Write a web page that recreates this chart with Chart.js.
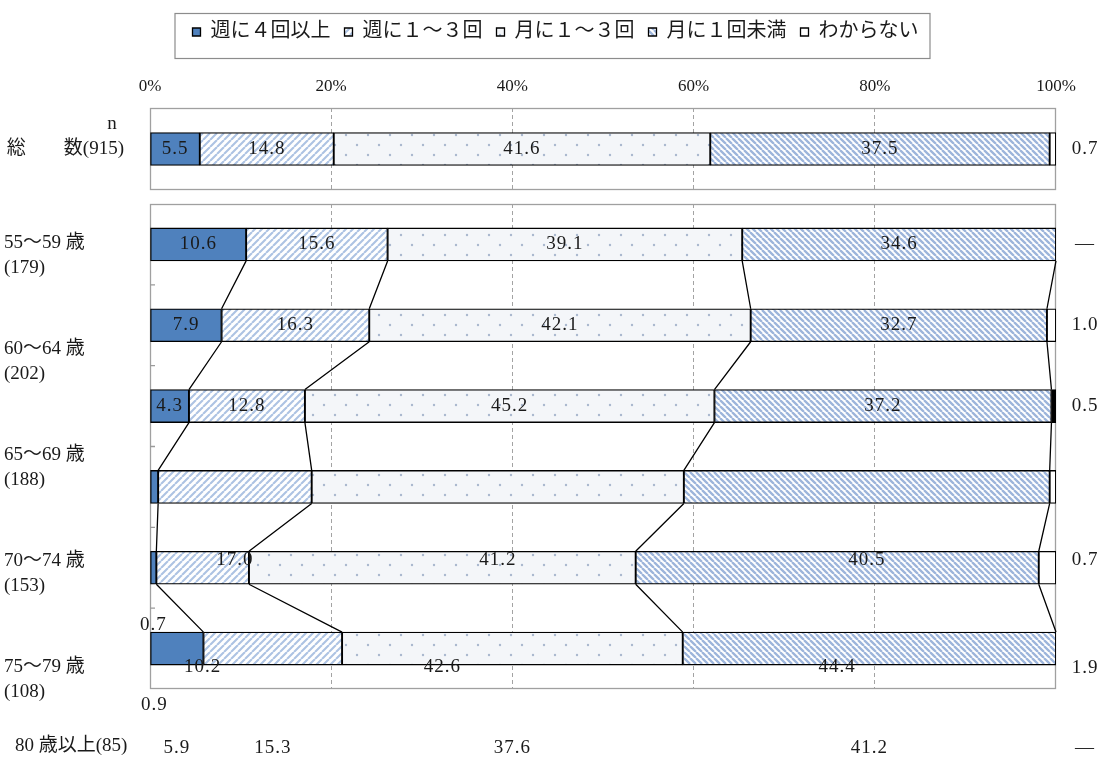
<!DOCTYPE html>
<html lang="ja">
<head>
<meta charset="utf-8">
<script src="https://cdn.jsdelivr.net/npm/chart.js@4.4.1/dist/chart.umd.min.js"></script>
<style>
html,body{margin:0;padding:0;background:#fff;}
#wrap{position:relative;width:1111px;height:758px;overflow:hidden;background:#fff;}
#c1{position:absolute;left:0;top:0;}
#c2{position:absolute;left:0;top:190px;}
</style>
</head>
<body>
<div id="wrap">
<canvas id="c1" width="1111" height="200"></canvas>
<canvas id="c2" width="1111" height="568"></canvas>
</div>
<script>
// ---------------- data ----------------
const seriesNames = ['週に４回以上','週に１～３回','月に１～３回','月に１回未満','わからない'];
const totalCategory = '総　　数(915)';
const totalNote = 'n';
const totalValues = [5.5, 14.8, 41.6, 37.5, 0.7];
const ageGroups = ['55～59 歳','60～64 歳','65～69 歳','70～74 歳','75～79 歳','80 歳以上'];
const ageCounts = ['(179)','(202)','(188)','(153)','(108)','(85)'];
const weekly4plus   = [10.6, 7.9, 4.3, 0.9, 0.7, 5.9];
const weekly1to3    = [15.6, 16.3, 12.8, 17.0, 10.2, 15.3];
const monthly1to3   = [39.1, 42.1, 45.2, 41.2, 42.6, 37.6];
const monthlyUnder1 = [34.6, 32.7, 37.2, 40.5, 44.4, 41.2];
const unknownShare  = [0, 1.0, 0.5, 0.7, 1.9, 0];
const percentTicks  = [0, 20, 40, 60, 80, 100];

// ---------------- styles ----------------
const SERIF = '"Liberation Serif", "Noto Sans CJK JP", serif';
function makePattern(w, h, draw){
  const c = document.createElement('canvas'); c.width = w; c.height = h;
  const g = c.getContext('2d'); draw(g, w, h);
  return g.createPattern(c, 'repeat');
}
const solidBlue = '#4f81bd';
const hatchUp = makePattern(7, 7, (g, w, h) => {
  g.fillStyle = '#ffffff'; g.fillRect(0, 0, w, h);
  g.strokeStyle = '#adc3e3'; g.lineWidth = 2.1; g.beginPath();
  for (let k = -1; k <= 1; k++) { g.moveTo(k * w, h); g.lineTo(k * w + w, 0); }
  g.stroke();
});
const dots = makePattern(22, 20, (g, w, h) => {
  g.fillStyle = '#f4f6f9'; g.fillRect(0, 0, w, h);
  g.fillStyle = '#a9b8ce';
  [[5, 5], [16, 15]].forEach(([x, y]) => { g.beginPath(); g.arc(x, y, 1.2, 0, Math.PI * 2); g.fill(); });
});
const hatchDown = makePattern(6, 6, (g, w, h) => {
  g.fillStyle = '#ffffff'; g.fillRect(0, 0, w, h);
  g.strokeStyle = '#9db5db'; g.lineWidth = 2.3; g.beginPath();
  for (let k = -1; k <= 1; k++) { g.moveTo(k * w, 0); g.lineTo(k * w + w, h); }
  g.stroke();
});
function unknownFill(darkRow){
  return ctx => (ctx.type === 'data' && ctx.dataIndex === darkRow) ? '#000000' : '#ffffff';
}

function toShares(rows){
  const n = rows[0].length;
  const sums = Array.from({length: n}, (_, i) => rows.reduce((s, r) => s + r[i], 0));
  return rows.map(r => r.map((v, i) => v / sums[i] * 100));
}
function buildDatasets(rows, darkRow){
  const shares = toShares(rows);
  const fills = [solidBlue, hatchUp, dots, hatchDown, unknownFill(darkRow)];
  return rows.map((r, k) => ({
    label: seriesNames[k],
    data: shares[k],
    rawValues: r,
    backgroundColor: fills[k],
    yAxisID: 'y',
    xAxisID: 'x'
  }));
}

const gridColor = ctx => (ctx.tick && (ctx.tick.value === 0 || ctx.tick.value === 100)) ? 'rgba(0,0,0,0)' : '#a3a3a3';

// ---------------- plugins ----------------
const boxPlugin = {
  id: 'plotBox',
  beforeDatasetsDraw(chart){
    const {ctx, chartArea: a} = chart;
    ctx.save(); ctx.strokeStyle = '#a0a0a0'; ctx.lineWidth = 1.3;
    ctx.strokeRect(a.left + 0.5, a.top + 0.5, a.right - a.left - 1, a.bottom - a.top - 1);
    ctx.restore();
  }
};
function valueLabelPlugin(shift){
  return {
    id: 'valueLabels',
    afterDraw(chart){
      const {ctx, chartArea: a} = chart;
      ctx.save();
      ctx.font = '19px ' + SERIF; ctx.fillStyle = '#1a1a1a';
      ctx.textAlign = 'center'; ctx.textBaseline = 'middle';
      try { ctx.letterSpacing = '1px'; } catch (e) {}
      const last = chart.data.datasets.length - 1;
      chart.data.datasets.forEach((ds, k) => {
        chart.getDatasetMeta(k).data.forEach((el, i) => {
          const v = ds.rawValues[i];
          const txt = v === 0 ? '—' : v.toFixed(1);
          const x = k === last ? a.right + 29 : (el.x + el.base) / 2;
          ctx.fillText(txt, x, el.y + shift(i, k));
        });
      });
      ctx.restore();
    }
  };
}
const legendFramePlugin = {
  id: 'legendFrame',
  afterDraw(chart){
    const hb = chart.legend && chart.legend.legendHitBoxes;
    if (!hb || !hb.length) return;
    const f = hb[0], l = hb[hb.length - 1];
    const x0 = f.left - 18, x1 = l.left + l.width + 11, y0 = f.top - 9, y1 = f.top + 36;
    const ctx = chart.ctx;
    ctx.save(); ctx.strokeStyle = '#8c8c8c'; ctx.lineWidth = 1.2;
    ctx.strokeRect(x0 + 0.5, y0 + 0.5, x1 - x0, y1 - y0);
    ctx.restore();
  }
};
const totalLabelPlugin = {
  id: 'totalLabel',
  afterDraw(chart){
    const ctx = chart.ctx;
    const el = chart.getDatasetMeta(0).data[0];
    ctx.save(); ctx.font = '19px ' + SERIF; ctx.fillStyle = '#1a1a1a'; ctx.textBaseline = 'middle';
    ctx.textAlign = 'center'; ctx.fillText(totalNote, 112, el.y - 25);
    ctx.textAlign = 'right'; ctx.fillText(totalCategory, 124, el.y);
    ctx.restore();
  }
};
const ageLabelPlugin = {
  id: 'ageLabels',
  afterDraw(chart){
    const ctx = chart.ctx, top = chart.chartArea.top;
    ctx.save(); ctx.font = '19px ' + SERIF; ctx.fillStyle = '#1a1a1a';
    ctx.textBaseline = 'middle'; ctx.textAlign = 'left';
    ageGroups.forEach((g, i) => {
      if (i < ageGroups.length - 1) {
        const y = top + 39 + i * 106;
        ctx.fillText(g, 4, y);
        ctx.fillText(ageCounts[i], 4, y + 25);
      } else {
        ctx.fillText(g + ageCounts[i], 15, top + 542);
      }
    });
    ctx.restore();
  }
};
const seriesLinePlugin = {
  id: 'seriesLines',
  afterDatasetsDraw(chart){
    const ctx = chart.ctx, a = chart.chartArea;
    ctx.save();
    // inward category ticks on left axis
    const n = chart.data.labels.length, h = (a.bottom - a.top) / n;
    ctx.strokeStyle = '#9a9a9a'; ctx.lineWidth = 1.3;
    ctx.beginPath();
    for (let k = 1; k < n; k++) { ctx.moveTo(a.left, a.top + k * h); ctx.lineTo(a.left + 5, a.top + k * h); }
    ctx.stroke();
    // series lines between consecutive bars
    ctx.strokeStyle = '#000'; ctx.lineWidth = 1.3;
    ctx.beginPath();
    for (let k = 0; k < 4; k++) {
      const data = chart.getDatasetMeta(k).data;
      for (let i = 0; i < data.length - 1; i++) {
        const p = data[i], q = data[i + 1];
        ctx.moveTo(p.x, p.y + p.height / 2);
        ctx.lineTo(q.x, q.y - q.height / 2);
      }
    }
    ctx.stroke();
    ctx.restore();
  }
};

// ---------------- shared options ----------------
function baseScales(xExtra){
  return {
    x: Object.assign({
      min: 0, max: 100, stacked: true,
      afterBuildTicks: s => { s.ticks = percentTicks.map(v => ({value: v})); },
      grid: {color: gridColor, drawTicks: false, lineWidth: 1},
      border: {display: false, dash: [4, 3]}
    }, xExtra),
    y: {stacked: true, afterFit: s => { s.width = 150; }, ticks: {display: false}, grid: {display: false}, border: {display: false}},
    yR: {type: 'category', position: 'right', afterFit: s => { s.width = 55; }, ticks: {display: false}, grid: {display: false}, border: {display: false}}
  };
}
const barDefaults = {bar: {barThickness: 33, borderWidth: 1.3, borderColor: '#000000', borderSkipped: false}};

// ---------------- chart 1: total ----------------
new Chart(document.getElementById('c1'), {
  type: 'bar',
  data: {labels: [totalCategory], datasets: buildDatasets(totalValues.map(v => [v]), -1)},
  options: {
    indexAxis: 'y', responsive: false, animation: false, devicePixelRatio: 1,
    datasets: barDefaults,
    layout: {padding: {top: 8, bottom: 10, left: 0, right: 0}},
    plugins: {
      legend: {position: 'top', labels: {boxWidth: 8, boxHeight: 8, padding: 14, color: '#1a1a1a', font: {family: SERIF, size: 20}}},
      tooltip: {enabled: false}
    },
    scales: baseScales({
      position: 'top',
      afterFit: s => { s.height = 56; },
      ticks: {padding: 11, color: '#1a1a1a', font: {family: SERIF, size: 17}, maxRotation: 0, autoSkip: false, callback: v => v + '%'}
    })
  },
  plugins: [boxPlugin, legendFramePlugin, totalLabelPlugin, valueLabelPlugin(() => 0)]
});

// ---------------- chart 2: by age ----------------
const ageLabelShift = {3: [218, 73, 73, 73, 73], 4: [57, 99, 99, 99, 100], 5: [99.5, 99.5, 99.5, 99.5, 99.5]};
new Chart(document.getElementById('c2'), {
  type: 'bar',
  data: {labels: ageGroups, datasets: buildDatasets([weekly4plus, weekly1to3, monthly1to3, monthlyUnder1, unknownShare], 2)},
  options: {
    indexAxis: 'y', responsive: false, animation: false, devicePixelRatio: 1,
    datasets: barDefaults,
    layout: {padding: {top: 14, bottom: 69, left: 0, right: 0}},
    plugins: {legend: {display: false}, tooltip: {enabled: false}},
    scales: baseScales({
      position: 'bottom',
      afterFit: s => { s.height = 0; },
      ticks: {display: false}
    })
  },
  plugins: [boxPlugin, seriesLinePlugin, ageLabelPlugin, valueLabelPlugin((i, k) => ageLabelShift[i] ? ageLabelShift[i][k] : 0)]
});
</script>
</body>
</html>
